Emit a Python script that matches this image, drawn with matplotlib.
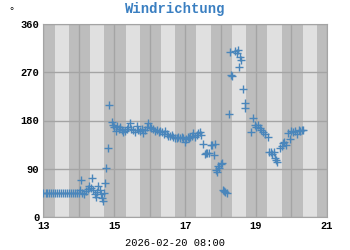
import matplotlib
matplotlib.use('Agg')
import matplotlib.pyplot as plt

# Messzeitpunkte (Tag im Februar) und Windrichtung in Grad
zeit = [13.00, 13.06, 13.11, 13.17, 13.22, 13.28, 13.33, 13.39, 13.44, 13.50,
        13.56, 13.61, 13.67, 13.72, 13.78, 13.83, 13.89, 13.94, 14.00,
        14.02, 14.06, 14.10, 14.15, 14.20, 14.25, 14.30, 14.35, 14.36, 14.40,
        14.45, 14.48, 14.52, 14.55, 14.60, 14.62, 14.65, 14.67, 14.70, 14.74,
        14.77, 14.81, 14.86, 14.93, 14.97,
        15.00, 15.05, 15.08, 15.12, 15.17, 15.22, 15.26, 15.30, 15.35, 15.40,
        15.44, 15.48, 15.53, 15.58, 15.63, 15.68, 15.72, 15.77, 15.82, 15.87,
        15.92, 15.96, 16.00, 16.05, 16.10, 16.15, 16.20, 16.25, 16.30, 16.34,
        16.39, 16.44, 16.49, 16.53, 16.57, 16.62, 16.67, 16.72, 16.76, 16.81,
        16.85, 16.90, 16.94, 16.99, 17.03, 17.08, 17.12, 17.15, 17.19, 17.23,
        17.27, 17.33, 17.37, 17.41, 17.45, 17.50, 17.55, 17.58, 17.62, 17.67,
        17.72, 17.77, 17.80, 17.83, 17.88, 17.91, 17.93, 17.96, 18.00, 18.03,
        18.07, 18.10, 18.13, 18.17, 18.24, 18.26, 18.30, 18.32, 18.40, 18.45,
        18.48, 18.51, 18.54, 18.59, 18.64, 18.68, 18.70, 18.87, 18.92, 18.96,
        19.00, 19.05, 19.10, 19.15, 19.20, 19.25, 19.33, 19.38, 19.42, 19.45,
        19.50, 19.53, 19.57, 19.60, 19.67, 19.72, 19.76, 19.80, 19.85, 19.90,
        19.95, 20.00, 20.05, 20.10, 20.15, 20.20, 20.25, 20.30, 20.33]
richtung = [45, 45, 45, 45, 45, 45, 45, 45, 45, 45,
            45, 45, 45, 45, 45, 45, 45, 45, 45,
            50, 69, 45, 42, 48, 52, 58, 54, 72, 50,
            42, 38, 46, 58, 50, 43, 35, 30, 45, 63,
            91, 128, 209, 178, 172,
            168, 160, 170, 165, 168, 162, 158, 160, 165, 168,
            175, 165, 163, 158, 170, 162, 160, 165, 157, 162,
            168, 175, 168, 166, 165, 160, 163, 158, 160, 158,
            155, 160, 154, 152, 151, 153, 150, 148, 148, 150,
            148, 149, 148, 140, 146, 150, 148, 150, 152, 156,
            150, 153, 157, 159, 153, 137, 118, 120, 119, 120,
            134, 134, 116, 137, 88, 84, 95, 92, 98, 100,
            50, 48, 46, 45, 193, 308, 265, 263, 310, 305,
            312, 280, 299, 293, 239, 212, 203, 159, 185, 172,
            168, 172, 166, 162, 158, 155, 150, 121, 121, 118,
            121, 110, 106, 103, 128, 133, 138, 140, 135, 156,
            146, 160, 158, 160, 155, 162, 160, 162, 163]
tage = [13, 14, 15, 16, 17, 18, 19, 20]
x_ticks = [13, 15, 17, 19, 21]
y_ticks = [0, 90, 180, 270, 360]

mono = 'Liberation Mono'
fig = plt.figure(figsize=(3.5, 2.5), dpi=100)
ax = fig.add_axes([0.124, 0.132, 0.81, 0.772])
ax.set_facecolor('#bdbdbd')

# Tag (hell) / Nacht (dunkel)
for d in tage:
    ax.axvspan(d + 0.32, d + 0.72, color='#e0e0e0', lw=0, zorder=0)

ax.plot(zeit, richtung, '+', color='#4a86bb', markersize=6, mew=1.0, zorder=3)

ax.set_xlim(13, 21)
ax.set_ylim(0, 360)
ax.set_xticks(x_ticks)
ax.set_yticks(y_ticks)
ax.set_xticks(range(13, 22), minor=True)
ax.grid(True, which='both', color='#a4a4a4', lw=1.0, zorder=1)
ax.set_axisbelow(True)
ax.tick_params(length=0, which='both', labelsize=7.5, pad=3)
for lab in ax.get_xticklabels() + ax.get_yticklabels():
    lab.set_fontfamily(mono)
    lab.set_fontweight('bold')
for s in ax.spines.values():
    s.set_color('#a4a4a4')

fig.text(0.5, 0.965, 'Windrichtung', ha='center', va='center', fontsize=10,
         fontweight='bold', family=mono, color='#3a7fc1')
fig.text(0.5, 0.03, '2026-02-20 08:00', ha='center', va='center',
         fontsize=7.5, family=mono)
fig.text(0.034, 0.955, '°', ha='center', va='center', fontsize=7.5, family=mono)

fig.savefig('out.png', dpi=100)
